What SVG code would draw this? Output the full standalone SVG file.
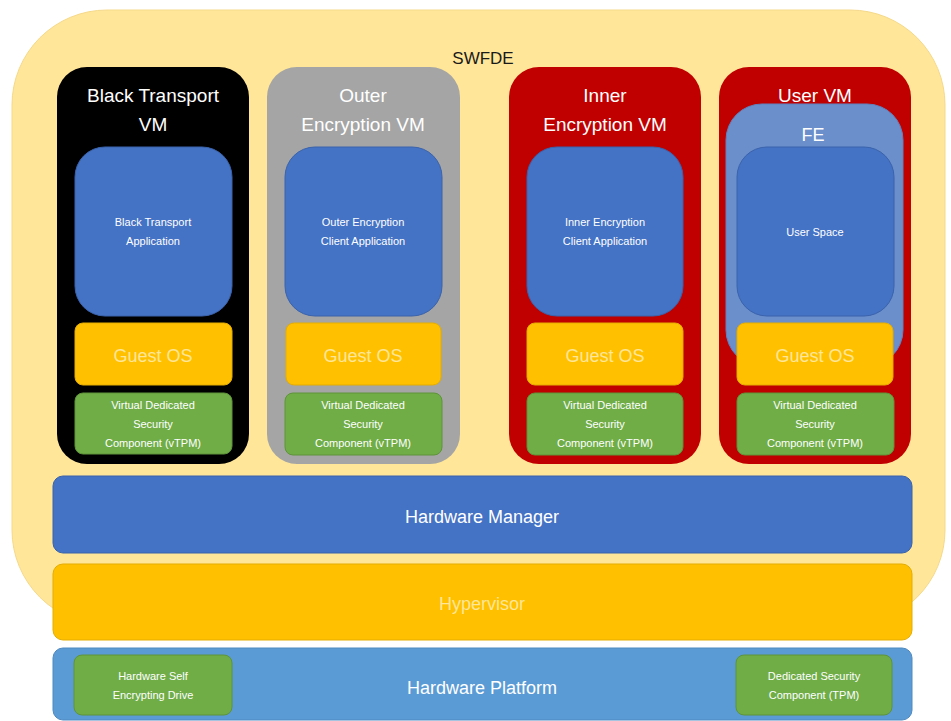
<svg xmlns="http://www.w3.org/2000/svg" width="951" height="721" viewBox="0 0 951 721">
<style>
text{font-family:"Liberation Sans","Open Sans",Arial,sans-serif;text-anchor:middle;}
.title{fill:#ffffff;font-size:19px;}
.small{fill:#ffffff;font-size:11px;}
.gos{fill:#FFE699;font-size:18px;}
.app{fill:#4472C4;stroke:#3A63AC;stroke-width:1;}
.os{fill:#FFC000;stroke:#E5AD00;stroke-width:1;}
.grn{fill:#70AD47;stroke:#5E9439;stroke-width:1;}
.big{fill:#ffffff;font-size:18px;}
</style>
<rect width="951" height="721" fill="#ffffff"/>
<g id="swfde">
<rect x="12" y="10" width="933" height="615" rx="95" ry="95" fill="#FFE699" stroke="#F5D98A" stroke-width="1"/>
<text x="483" y="64" style="fill:#1a1a1a;font-size:17px">SWFDE</text>
</g>
<g id="black-vm">
<rect x="57" y="67" width="192" height="397" rx="30" fill="#000000"/>
<text class="title" x="153" y="102">Black Transport</text>
<text class="title" x="153" y="131">VM</text>
<rect class="app" x="75" y="147" width="157" height="169" rx="30"/>
<text class="small" x="153" y="226">Black Transport</text>
<text class="small" x="153" y="245">Application</text>
<rect class="os" x="75" y="323" width="157" height="62" rx="8"/>
<text class="gos" x="153" y="362">Guest OS</text>
<rect class="grn" x="75" y="393" width="157" height="61" rx="8"/>
<text class="small" x="153" y="409">Virtual Dedicated</text>
<text class="small" x="153" y="428">Security</text>
<text class="small" x="153" y="447">Component (vTPM)</text>
</g>
<g id="outer-vm">
<rect x="267" y="67" width="193" height="397" rx="30" fill="#A5A5A5"/>
<text class="title" x="363" y="102">Outer</text>
<text class="title" x="363" y="131">Encryption VM</text>
<rect class="app" x="285" y="147" width="157" height="169" rx="30"/>
<text class="small" x="363" y="226">Outer Encryption</text>
<text class="small" x="363" y="245">Client Application</text>
<rect class="os" x="286" y="323" width="155" height="62" rx="8"/>
<text class="gos" x="363" y="362">Guest OS</text>
<rect class="grn" x="285" y="393" width="157" height="62" rx="8"/>
<text class="small" x="363" y="409">Virtual Dedicated</text>
<text class="small" x="363" y="428">Security</text>
<text class="small" x="363" y="447">Component (vTPM)</text>
</g>
<g id="inner-vm">
<rect x="509" y="67" width="192" height="397" rx="30" fill="#C00000"/>
<text class="title" x="605" y="102">Inner</text>
<text class="title" x="605" y="131">Encryption VM</text>
<rect class="app" x="527" y="147" width="156" height="169" rx="30"/>
<text class="small" x="605" y="226">Inner Encryption</text>
<text class="small" x="605" y="245">Client Application</text>
<rect class="os" x="527" y="323" width="156" height="62" rx="8"/>
<text class="gos" x="605" y="362">Guest OS</text>
<rect class="grn" x="527" y="393" width="156" height="62" rx="8"/>
<text class="small" x="605" y="409">Virtual Dedicated</text>
<text class="small" x="605" y="428">Security</text>
<text class="small" x="605" y="447">Component (vTPM)</text>
</g>
<g id="user-vm">
<rect x="719" y="67" width="192" height="397" rx="30" fill="#C00000"/>
<text class="title" x="815" y="102">User VM</text>
<rect x="726" y="104" width="177" height="262" rx="36" fill="#6B8FCB" stroke="#5F82BE" stroke-width="1"/>
<text class="title" x="813" y="141" style="font-size:18px">FE</text>
<rect class="app" x="737" y="147" width="157" height="169" rx="30"/>
<text class="small" x="815" y="236">User Space</text>
<rect class="os" x="737" y="323" width="156" height="62" rx="8"/>
<text class="gos" x="815" y="362">Guest OS</text>
<rect class="grn" x="737" y="393" width="157" height="62" rx="8"/>
<text class="small" x="815" y="409">Virtual Dedicated</text>
<text class="small" x="815" y="428">Security</text>
<text class="small" x="815" y="447">Component (vTPM)</text>
</g>
<g id="hardware-manager">
<rect x="53" y="476" width="859" height="77" rx="10" fill="#4472C4" stroke="#3A63AC" stroke-width="1"/>
<text class="big" x="482" y="523">Hardware Manager</text>
</g>
<g id="hypervisor">
<rect x="53" y="564" width="859" height="76" rx="10" fill="#FFC000" stroke="#E5AD00" stroke-width="1"/>
<text class="gos" x="482" y="610">Hypervisor</text>
</g>
<g id="hardware-platform">
<rect x="53" y="648" width="859" height="72" rx="10" fill="#5B9BD5" stroke="#4E89C0" stroke-width="1"/>
<text class="big" x="482" y="694">Hardware Platform</text>
<rect class="grn" x="74" y="655" width="158" height="60" rx="8"/>
<text class="small" x="153" y="680">Hardware Self</text>
<text class="small" x="153" y="699">Encrypting Drive</text>
<rect class="grn" x="736" y="655" width="156" height="60" rx="8"/>
<text class="small" x="814" y="680">Dedicated Security</text>
<text class="small" x="814" y="699">Component (TPM)</text>
</g>
<g id="connectors"></g>
</svg>
